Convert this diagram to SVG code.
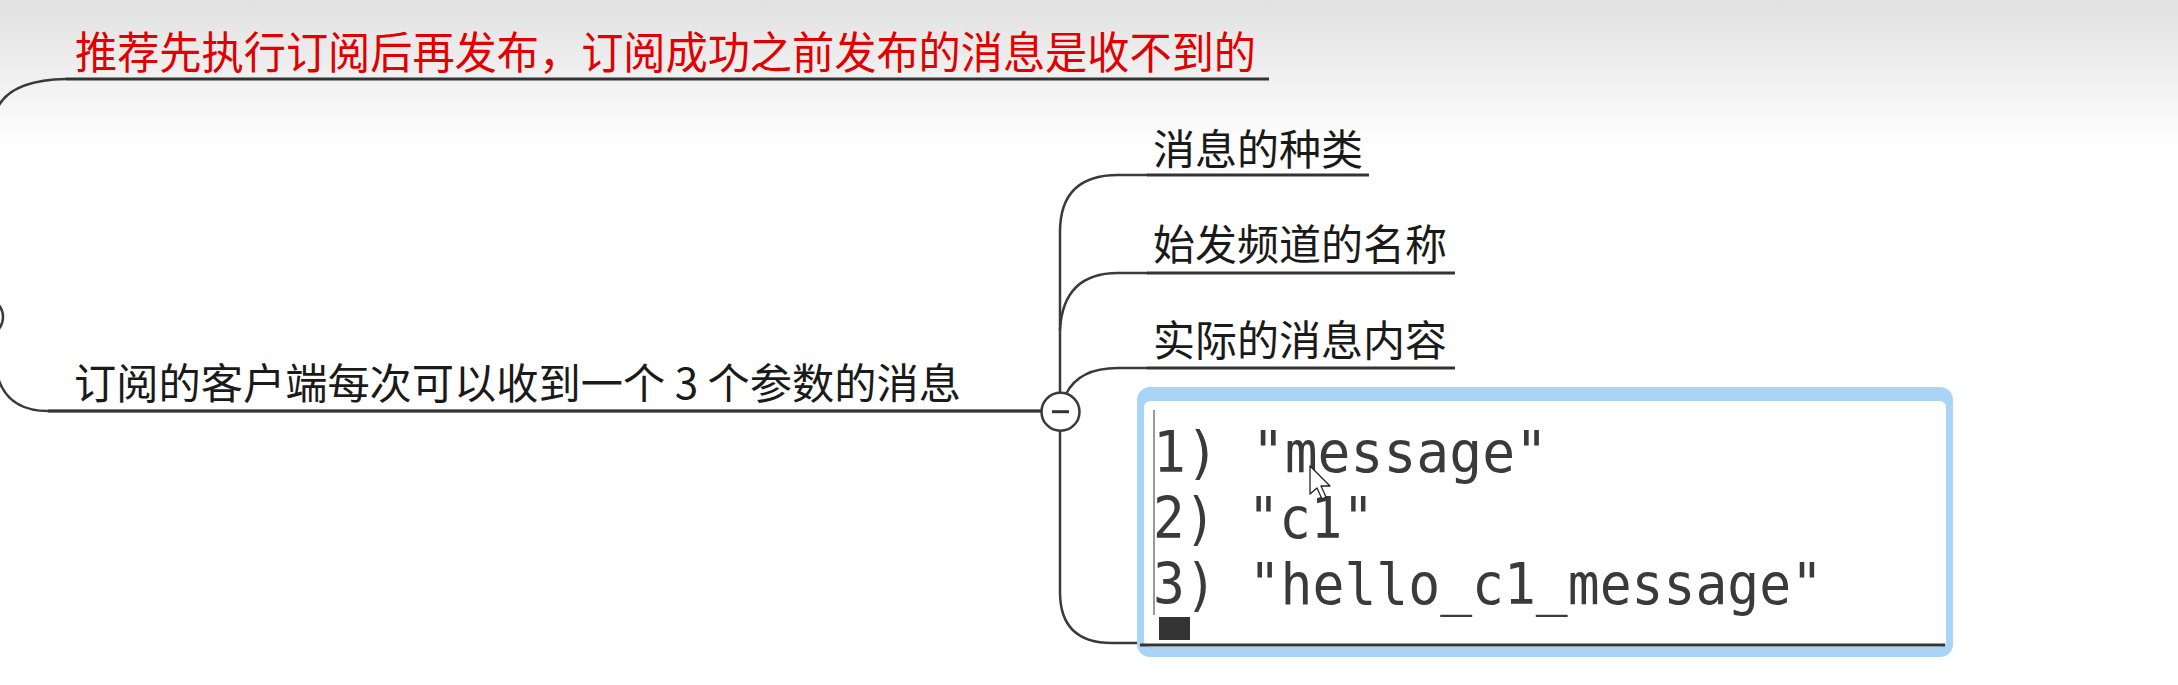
<svg xmlns="http://www.w3.org/2000/svg" width="2178" height="685" viewBox="0 0 2178 685">
<defs>
<linearGradient id="bg" x1="0" y1="0" x2="0" y2="150" gradientUnits="userSpaceOnUse">
<stop offset="0" stop-color="#e1e1e1"/>
<stop offset="1" stop-color="#ffffff"/>
</linearGradient>
</defs>
<style>
.ln{fill:none;stroke:#3a3a3a;stroke-width:2.5;stroke-linecap:round}
.ul{fill:none;stroke:#333;stroke-width:3}
.cjk{font-family:"Noto Sans CJK SC","Noto Sans",sans-serif;fill:#1a1a1a}
.red{fill:#e10000}
.mono{font-family:"DejaVu Sans Mono","Liberation Mono",monospace;font-size:57px;fill:#3a3a3a}
</style>
<rect x="0" y="0" width="2178" height="685" fill="url(#bg)"/>
<g id="connectors">
<path class="ln" d="M-6 118 Q2 80 66 79"/>
<circle class="ln" cx="-16" cy="317" r="19"/>
<path class="ln" d="M-4 370 Q4 411 48 411 H1041"/>
<path class="ln" d="M1060 393 V232 Q1060 175 1118 175 H1147"/>
<path class="ln" d="M1060 330 Q1063 273 1118 273 H1147"/>
<path class="ln" d="M1066 394 Q1079 368 1118 368 H1147"/>
<path class="ln" d="M1060 431 V592 Q1060 643 1112 643 H1142"/>
</g>
<g id="node-red">
<line class="ul" x1="66" y1="79" x2="1269" y2="79"/>
<text class="cjk red" x="75" y="69" font-size="44" textLength="1181" lengthAdjust="spacingAndGlyphs">推荐先执行订阅后再发布，订阅成功之前发布的消息是收不到的</text>
</g>
<g id="node-main">
<line class="ul" x1="48" y1="411" x2="1041" y2="411"/>
<text class="cjk" x="74" y="399" font-size="42" textLength="887" lengthAdjust="spacingAndGlyphs">订阅的客户端每次可以收到一个 3 个参数的消息</text>
<circle cx="1060.5" cy="411.7" r="19" fill="#fff" stroke="#3a3a3a" stroke-width="2.5"/>
<line x1="1052" y1="411.7" x2="1069" y2="411.7" stroke="#333" stroke-width="3"/>
</g>
<g id="node-b1">
<line class="ul" x1="1147" y1="175" x2="1369" y2="175"/>
<text class="cjk" x="1153" y="165" font-size="42">消息的种类</text>
</g>
<g id="node-b2">
<line class="ul" x1="1147" y1="273" x2="1455" y2="273"/>
<text class="cjk" x="1153" y="260" font-size="42">始发频道的名称</text>
</g>
<g id="node-b3">
<line class="ul" x1="1147" y1="368" x2="1455" y2="368"/>
<text class="cjk" x="1153" y="356" font-size="42">实际的消息内容</text>
</g>
<g id="node-box">
<rect x="1137" y="387" width="816" height="270" rx="13" fill="#a9d4f8"/>
<rect x="1144" y="401" width="802" height="246" rx="6" fill="#ffffff"/>
<line x1="1154" y1="410" x2="1154" y2="615" stroke="#777" stroke-width="1.5"/>
<text class="mono" x="1153" y="472" textLength="395" lengthAdjust="spacingAndGlyphs">1) "message"</text>
<text class="mono" x="1153" y="538" textLength="221" lengthAdjust="spacingAndGlyphs">2) "c1"</text>
<text class="mono" x="1153" y="604" textLength="670" lengthAdjust="spacingAndGlyphs">3) "hello_c1_message"</text>
<rect x="1159" y="617" width="31" height="23" fill="#333"/>
<line x1="1140" y1="645" x2="1945" y2="645" stroke="#333" stroke-width="3"/>
<path d="M1310 466 L1310 494 L1317 488 L1322 499 L1326 497 L1321 486 L1330 486 Z" fill="#fff" stroke="#222" stroke-width="1.3" stroke-linejoin="round"/>
</g>
</svg>
